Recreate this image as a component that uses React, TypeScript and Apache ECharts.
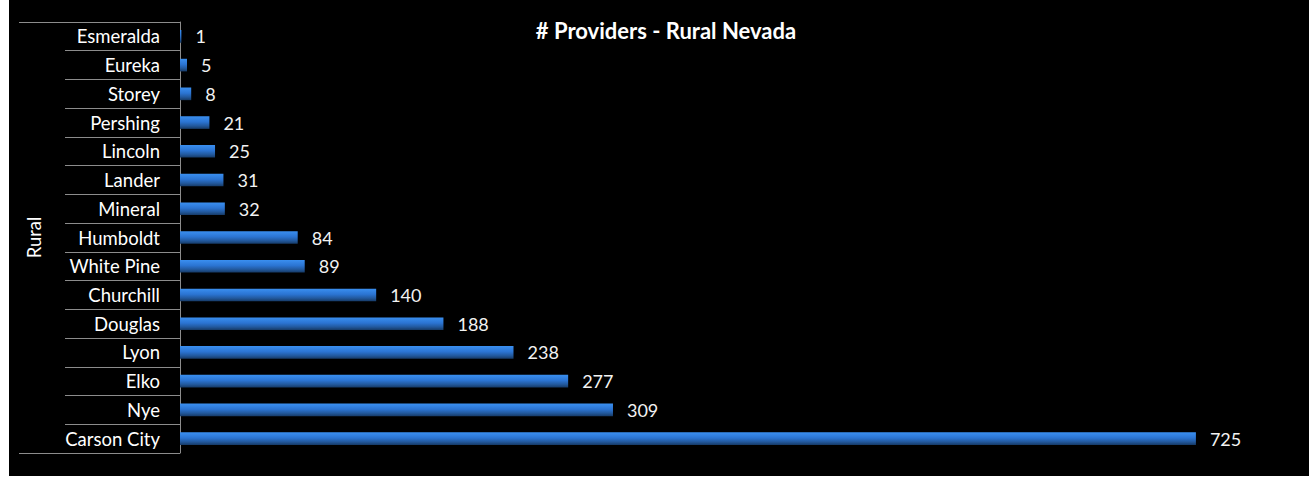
import React, { useEffect, useRef } from "react";
import * as echarts from "echarts";

const categories = [
  "Esmeralda", "Eureka", "Storey", "Pershing", "Lincoln", "Lander", "Mineral",
  "Humboldt", "White Pine", "Churchill", "Douglas", "Lyon", "Elko", "Nye", "Carson City",
];
const providers = [1, 5, 8, 21, 25, 31, 32, 84, 89, 140, 188, 238, 277, 309, 725];
const groupLabels = ["Rural"];
const titleText = "# Providers - Rural Nevada";

const FONT = "Lato, 'Open Sans', sans-serif";

export default function App() {
  const ref = useRef<HTMLDivElement>(null);
  useEffect(() => {
    if (!ref.current) return;
    const chart = echarts.init(ref.current, null, { renderer: "svg" });
    chart.setOption({
      animation: false,
      backgroundColor: "#000000",
      title: {
        text: titleText,
        left: 652,
        top: 14,
        textAlign: "center",
        textStyle: { color: "#ffffff", fontSize: 22, fontWeight: "bold", fontFamily: FONT },
      },
      grid: { left: 171, right: 8, top: 22, bottom: 23, containLabel: false },
      xAxis: {
        type: "value",
        min: 0,
        max: 800,
        show: false,
      },
      yAxis: [
        {
          type: "category",
          data: categories,
          inverse: true,
          position: "left",
          axisLine: { show: true, lineStyle: { color: "#8c8c8c", width: 1 } },
          axisTick: { show: true, length: 115, alignWithLabel: false, lineStyle: { color: "#8c8c8c" } },
          axisLabel: { color: "#ffffff", fontSize: 18.5, fontFamily: FONT, margin: 20 },
          splitLine: { show: false },
        },
        {
          type: "category",
          data: groupLabels,
          position: "left",
          offset: 115,
          axisLine: { show: false },
          axisTick: { show: true, length: 46, alignWithLabel: false, lineStyle: { color: "#8c8c8c" } },
          axisLabel: { color: "#ffffff", fontSize: 18.5, fontFamily: FONT, rotate: 90, margin: 22 },
          splitLine: { show: false },
        },
      ],
      series: [
        {
          type: "bar",
          yAxisIndex: 0,
          data: providers,
          barWidth: "44%",
          itemStyle: {
            color: new echarts.graphic.LinearGradient(0, 0, 0, 1, [
              { offset: 0, color: "#3a8ff0" },
              { offset: 0.45, color: "#2b74d2" },
              { offset: 0.75, color: "#22599e" },
              { offset: 1, color: "#163a66" },
            ]),
          },
          label: {
            show: true,
            position: "right",
            distance: 14,
            color: "#f2f2f2",
            fontSize: 18,
            fontFamily: FONT,
          },
        },
      ],
    });
    return () => chart.dispose();
  }, []);
  return (
    <div
      ref={ref}
      style={{ position: "absolute", left: 9, top: 0, width: 1300, height: 476 }}
    />
  );
}
